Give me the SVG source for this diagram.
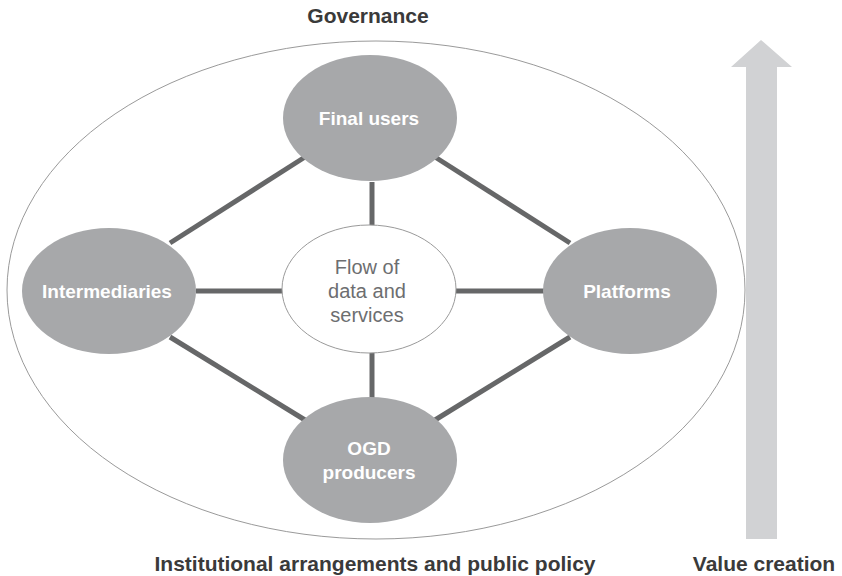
<svg xmlns="http://www.w3.org/2000/svg" width="842" height="576" viewBox="0 0 842 576">
<style>
.node{fill:#a7a8aa}
.nt{font-family:"Liberation Sans",Arial,sans-serif;font-weight:bold;font-size:19px;fill:#fff;text-anchor:middle}
.lbl{font-family:"Liberation Sans",Arial,sans-serif;font-weight:bold;font-size:21px;fill:#3a3a3a;text-anchor:middle}
.ct{font-family:"Liberation Sans",Arial,sans-serif;font-size:20px;fill:#6d6e70;text-anchor:middle}
.con line{stroke:#666768;stroke-width:5}
</style>
<rect width="842" height="576" fill="#fff"/>
<ellipse cx="376" cy="290" rx="369" ry="249" fill="none" stroke="#9a9a9a" stroke-width="1"/>
<polygon points="761,40 792,67 777,67 777,539 746,539 746,67 731,67" fill="#d1d2d4"/>
<g id="connectors" class="con">
<line x1="305" y1="157" x2="170" y2="243"/>
<line x1="435" y1="157" x2="570" y2="243"/>
<line x1="170" y1="337" x2="305" y2="420"/>
<line x1="570" y1="337" x2="435" y2="420"/>
<line x1="372" y1="182" x2="372" y2="226"/>
<line x1="372" y1="352" x2="372" y2="398"/>
<line x1="196" y1="291" x2="283" y2="291"/>
<line x1="456" y1="291" x2="544" y2="291"/>
</g>
<g id="final-users"><ellipse class="node" cx="370" cy="118" rx="87" ry="63"/><text class="nt" x="369" y="125">Final users</text></g>
<g id="intermediaries"><ellipse class="node" cx="109" cy="291" rx="87" ry="63"/><text class="nt" x="107" y="298">Intermediaries</text></g>
<g id="platforms"><ellipse class="node" cx="630" cy="291" rx="87" ry="63"/><text class="nt" x="627" y="298">Platforms</text></g>
<g id="ogd-producers"><ellipse class="node" cx="370" cy="460" rx="87" ry="63"/><text class="nt" x="369" y="455">OGD</text><text class="nt" x="369" y="479">producers</text></g>
<g id="flow"><ellipse cx="369" cy="289" rx="87" ry="64" fill="#fff" stroke="#9a9a9a" stroke-width="1"/><text class="ct" x="367" y="274">Flow of</text><text class="ct" x="367" y="298">data and</text><text class="ct" x="367" y="322">services</text></g>
<text class="lbl" x="368" y="23">Governance</text>
<text class="lbl" x="375" y="571">Institutional arrangements and public policy</text>
<text class="lbl" x="764" y="571">Value creation</text>
</svg>
